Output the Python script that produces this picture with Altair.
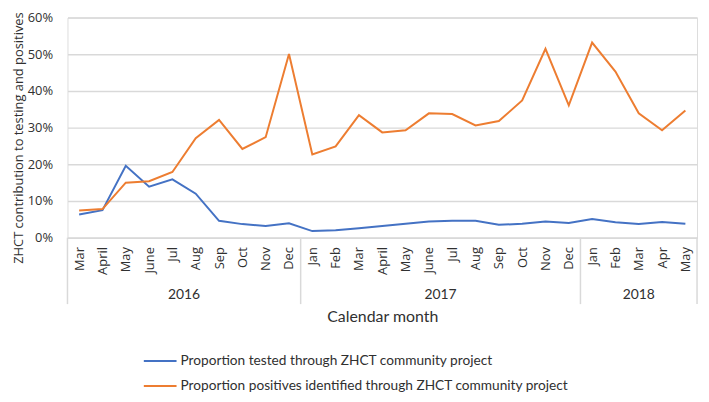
import altair as alt
import pandas as pd

months = ["Mar", "April", "May", "June", "Jul", "Aug", "Sep", "Oct", "Nov", "Dec",
          "Jan", "Feb", "Mar", "April", "May", "June", "Jul", "Aug", "Sep", "Oct", "Nov", "Dec",
          "Jan", "Feb", "Mar", "Apr", "May"]
tested = [6.3, 7.5, 19.6, 13.9, 15.9, 12.0, 4.6, 3.7, 3.2, 3.9,
          1.8, 2.0, 2.6, 3.2, 3.8, 4.4, 4.6, 4.6, 3.5, 3.8, 4.4, 4.0,
          5.1, 4.2, 3.7, 4.3, 3.8]
positives = [7.4, 7.8, 15.0, 15.4, 17.9, 27.1, 32.1, 24.2, 27.4, 50.1,
             22.7, 24.9, 33.4, 28.7, 29.3, 33.9, 33.7, 30.6, 31.8, 37.4, 51.5, 36.1,
             53.2, 45.3, 33.9, 29.3, 34.7]
years = ["2016", "2017", "2018"]
year_months = [10, 12, 5]

s_tested = "Proportion tested through ZHCT community project"
s_pos = "Proportion positives identified through ZHCT community project"

rows = []
for i, m in enumerate(months):
    rows.append({"pos": i + 0.5, "month": m, "value": tested[i] / 100, "series": s_tested})
    rows.append({"pos": i + 0.5, "month": m, "value": positives[i] / 100, "series": s_pos})
df = pd.DataFrame(rows)

bounds = [0]
for n in year_months:
    bounds.append(bounds[-1] + n)
ydf = pd.DataFrame({"year": years, "center": [(bounds[k] + bounds[k + 1]) / 2 for k in range(3)]})
bdf = pd.DataFrame({"b": bounds})

W, H = 635, 222
N = len(months)
label_js = "[" + ",".join("'" + m + "'" for m in months) + "]"

xscale = alt.Scale(domain=[0, N], nice=False, zero=False)

lines = alt.Chart(df).mark_line(strokeWidth=2).encode(
    x=alt.X("pos:Q", scale=xscale,
            axis=alt.Axis(values=[i + 0.5 for i in range(N)], tickCount=60,
                          labelExpr=label_js + "[floor(datum.value)]",
                          labelAngle=270, ticks=False, grid=False,
                          domain=True, domainColor="#d9d9d9", domainWidth=1.5,
                          labelPadding=9, labelFont="Open Sans", labelFontSize=13,
                          labelColor="#303030", labelOverlap=False, labelFlush=False,
                          title="Calendar month", titleFont="Lato", titleFontSize=16,
                          titleFontWeight="normal", titleColor="#303030",
                          titleY=80, titleBaseline="middle")),
    y=alt.Y("value:Q", scale=alt.Scale(domain=[0, 0.6], nice=False),
            axis=alt.Axis(values=[0, 0.1, 0.2, 0.3, 0.4, 0.5, 0.6], tickCount=20,
                          format=".0%",
                          ticks=False, domain=False, grid=True,
                          gridColor="#d9d9d9", gridWidth=1.5,
                          labelPadding=15, labelFont="Open Sans", labelFontSize=13,
                          labelColor="#303030",
                          title="ZHCT contribution to testing and positives",
                          titleFont="Open Sans", titleFontSize=13,
                          titleFontWeight="normal", titleColor="#303030",
                          titleX=-45, titleY=121, titleAngle=270,
                          titleAlign="center", titleBaseline="alphabetic")),
    color=alt.Color("series:N",
                    scale=alt.Scale(domain=[s_tested, s_pos], range=["#4472C4", "#ED7D31"]),
                    legend=alt.Legend(title=None, orient="none", legendX=76, legendY=329,
                                      symbolType="stroke", symbolSize=1089,
                                      symbolStrokeWidth=2, labelOffset=3,
                                      labelFont="Lato", labelFontSize=13.8,
                                      labelColor="#303030", rowPadding=-7,
                                      labelLimit=500)),
    order="pos:Q",
)

seps = alt.Chart(bdf).mark_rule(color="#d9d9d9", strokeWidth=1.5).encode(
    x=alt.X("b:Q", scale=xscale),
    y=alt.value(H),
    y2=alt.value(H + 67),
)

ylabels = alt.Chart(ydf).mark_text(font="Lato", fontSize=14, color="#303030",
                                   baseline="middle").encode(
    x=alt.X("center:Q", scale=xscale),
    y=alt.value(H + 58),
    text="year:N",
)

chart = alt.layer(lines, seps, ylabels).properties(
    width=W, height=H,
    autosize=alt.AutoSizeParams(type="none"),
    padding={"left": 60, "top": 8, "right": 4, "bottom": 156},
).configure_view(stroke=None).configure(background="white")

chart.save("out.html", embed_options={"renderer": "svg", "actions": False})
